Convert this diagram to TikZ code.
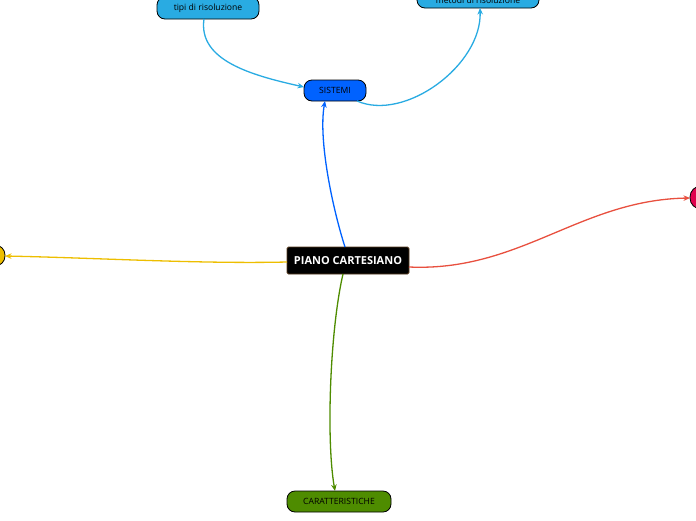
\documentclass[tikz,border=0pt]{standalone}
\usepackage{fontspec}
\setmainfont{Open Sans}
\usetikzlibrary{arrows.meta}
\definecolor{cblue}{HTML}{0062FF}
\definecolor{clight}{HTML}{29ABE2}
\definecolor{cgreen}{HTML}{4E8C00}
\definecolor{cyellow}{HTML}{EDBE00}
\definecolor{cred}{HTML}{E8503F}
\definecolor{cpink}{HTML}{E0004D}
\begin{document}
\begin{tikzpicture}[x=1pt,y=-1pt,
  topic/.style={draw=black,line width=0.8pt,rounded corners=8pt,inner sep=0pt,font=\fontsize{8.6}{10}\selectfont,text=black},
  conn/.style={line width=1.3pt,-{Stealth[length=6.5pt,width=5.5pt]}}]
\useasboundingbox (0,0) rectangle (696,520);
\node[draw=black!55!brown,line width=0.8pt,rounded corners=1.5pt,fill=black,text=white,font=\bfseries\fontsize{11}{13}\selectfont,minimum width=122pt,minimum height=27pt,inner sep=0pt] (c) at (348,260.5) {PIANO CARTESIANO};
\node[topic,fill=cblue,minimum width=62pt,minimum height=21pt] (s) at (335,90.5) {SISTEMI};
\node[topic,fill=clight,minimum width=102pt,minimum height=22pt] (t) at (208,8) {tipi di risoluzione};
\node[topic,fill=clight,minimum width=122pt,minimum height=16pt] (m) at (478,0) {metodi di risoluzione};
\node[topic,fill=cgreen,minimum width=104pt,minimum height=21pt] (k) at (339,501.5) {CARATTERISTICHE};
\node[topic,fill=cyellow,minimum width=90pt,minimum height=21pt,rounded corners=10pt] (y) at (-40,255.5) {};
\node[topic,fill=cpink,minimum width=90pt,minimum height=23pt,rounded corners=11pt] (r) at (735,197.5) {};
\coordinate (cs) at (345,247);
\coordinate (ck) at (343,274);
\coordinate (cy) at (287,262);
\coordinate (cr) at (409,267);
\coordinate (st) at (304,87);
\coordinate (sb) at (325,101);
\coordinate (sm) at (357,101);
\coordinate (tb) at (204,19);
\coordinate (mb) at (480,8);
\coordinate (kt) at (335,491);
\coordinate (ye) at (5,256);
\coordinate (re) at (690,198);
\draw[conn,cblue] (cs) .. controls (333,210) and (318,140) .. (sb);
\draw[conn,clight] (tb) .. controls (198,60) and (250,75) .. (st);
\draw[conn,clight] (sm) .. controls (405,122) and (482,65) .. (mb);
\draw[conn,cgreen] (ck) .. controls (330,330) and (326,440) .. (kt);
\draw[conn,cyellow] (cy) .. controls (200,264) and (100,258) .. (ye);
\draw[conn,cred] (cr) .. controls (520,272) and (580,200) .. (re);
\end{tikzpicture}
\end{document}
